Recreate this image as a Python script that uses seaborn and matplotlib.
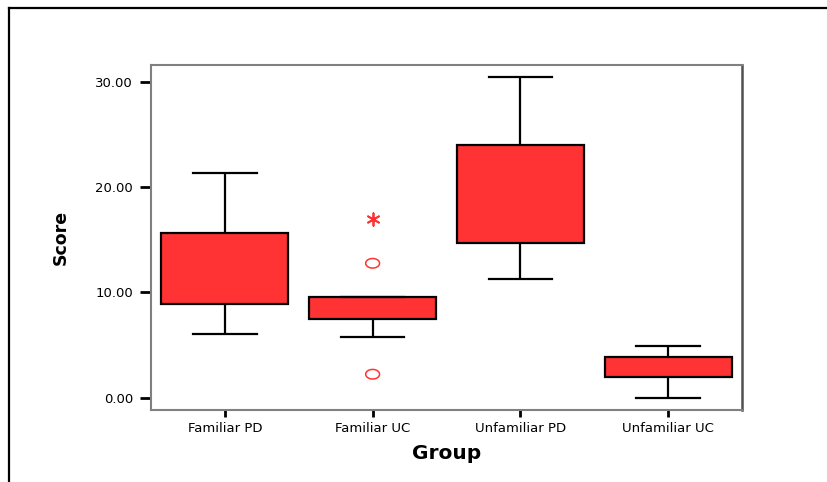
import numpy as np
import pandas as pd
import matplotlib
matplotlib.use('Agg')
import matplotlib.pyplot as plt
from matplotlib.lines import Line2D
from matplotlib.path import Path
import seaborn as sns

# valores (quartis, extremos dos bigodes, outliers)
groups = ['Familiar PD', 'Familiar UC', 'Unfamiliar PD', 'Unfamiliar UC']
familiar_pd = [6.08, 8.9, 12.0, 15.6, 21.3]
familiar_uc = [5.76, 7.5, 8.0, 8.5, 9.0, 9.56]
unfamiliar_pd = [11.27, 14.72, 19.0, 24.0, 30.42]
unfamiliar_uc = [0.0, 1.97, 3.0, 3.89, 4.94]

# outliers (circulo) e extremos (asterisco) do grupo Familiar UC
outlier_group = ['Familiar UC', 'Familiar UC']
outlier_values = [12.76, 2.22]
extreme_group = ['Familiar UC']
extreme_values = [16.94]

yticks = [0, 10, 20, 30]

scores = {
    'Familiar PD': familiar_pd,
    'Familiar UC': familiar_uc + outlier_values + extreme_values,
    'Unfamiliar PD': unfamiliar_pd,
    'Unfamiliar UC': unfamiliar_uc,
}
df = pd.DataFrame([(g, v) for g in groups for v in scores[g]], columns=['Group', 'Score'])
df_out = pd.DataFrame({'Group': outlier_group, 'Score': outlier_values})
df_ext = pd.DataFrame({'Group': extreme_group, 'Score': extreme_values})

red = '#ff3333'
plt.rcParams['font.family'] = ['DejaVu Sans']

fig = plt.figure(figsize=(8.28, 4.82), dpi=100)
ax = fig.add_axes([151 / 828, 1 - 410 / 482, (742 - 151) / 828, (410 - 65) / 482])

sns.boxplot(data=df, x='Group', y='Score', order=groups, ax=ax,
            width=0.86, color=red, saturation=1, showfliers=False,
            boxprops=dict(facecolor=red, edgecolor='black', linewidth=1.6),
            whiskerprops=dict(color='black', linewidth=1.6),
            capprops=dict(color='black', linewidth=1.6),
            medianprops=dict(linewidth=0))

# marcador eliptico (circulo achatado como no SPSS)
t = np.linspace(0, 2 * np.pi, 60)
ellipse = Path(np.column_stack([1.45 * np.cos(t), np.sin(t)]))

sns.stripplot(data=df_out, x='Group', y='Score', order=groups, ax=ax,
              jitter=False, marker=ellipse, s=10, facecolor='none',
              edgecolor=red, linewidth=1.1)
sns.stripplot(data=df_ext, x='Group', y='Score', order=groups, ax=ax,
              jitter=False, marker=(6, 2, 0), s=9, color=red,
              edgecolor=red, linewidth=1.3)

ax.set_xlim(-0.5, 3.5)
ax.set_ylim(-1.18, 31.6)
ax.set_yticks(yticks)
ax.set_yticklabels([f'{v:.2f}' for v in yticks], fontsize=9.5)
ax.set_xticks(range(len(groups)))
ax.set_xticklabels(groups, fontsize=9.5)

ax.tick_params(axis='y', length=8, width=2, color='black', pad=5)
ax.tick_params(axis='x', length=5, width=2, color='black', pad=4)

for side in ['left', 'bottom', 'top']:
    ax.spines[side].set_color('#808080')
    ax.spines[side].set_linewidth(1.5)
ax.spines['right'].set_color('#505050')
ax.spines['right'].set_linewidth(1.8)

ax.set_xlabel('Group', fontsize=14.5, fontweight='bold', labelpad=6)
ax.set_ylabel('Score', fontsize=12.5, fontweight='bold', labelpad=18)

# moldura externa (so topo e esquerda aparecem no recorte)
fig.add_artist(Line2D([9 / 828, 1], [1 - 8 / 482, 1 - 8 / 482], color='black', linewidth=1.6,
                      transform=fig.transFigure))
fig.add_artist(Line2D([9 / 828, 9 / 828], [0, 1 - 8 / 482], color='black', linewidth=1.6,
                      transform=fig.transFigure))

fig.savefig('out.png', dpi=100)
